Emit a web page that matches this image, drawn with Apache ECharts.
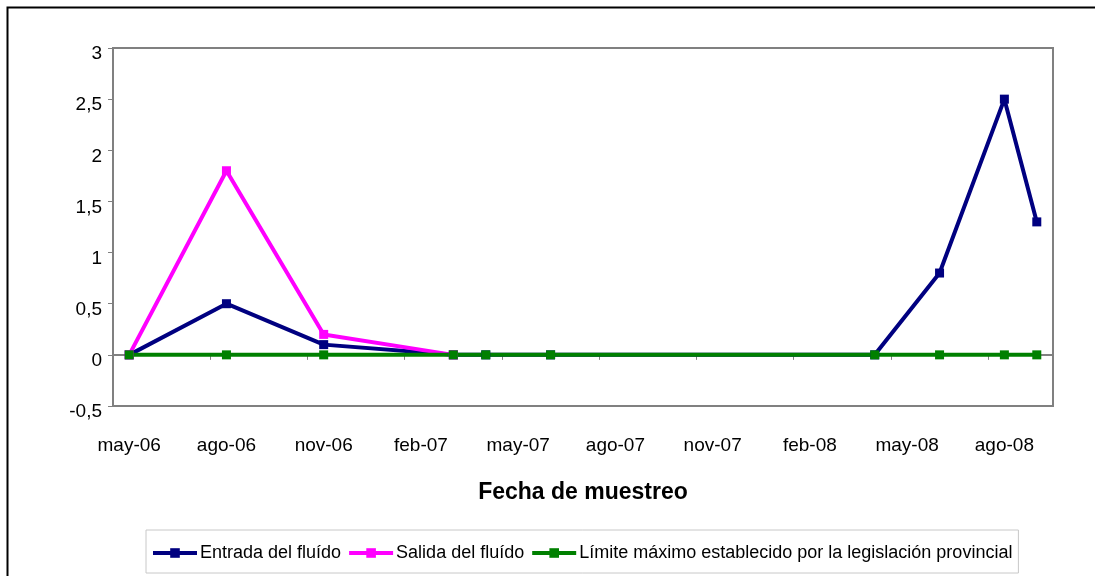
<!DOCTYPE html>
<html>
<head>
<meta charset="utf-8">
<script src="https://cdn.jsdelivr.net/npm/echarts@6/dist/echarts.min.js"></script>
<style>
html,body{margin:0;padding:0;background:#fff;}
#chart{width:1095px;height:576px;}
</style>
</head>
<body>
<div id="chart"></div>
<script>
// Monthly category axis (may-06 .. sep-08)
const categories = ['may-06','jun-06','jul-06','ago-06','sep-06','oct-06','nov-06','dic-06','ene-07','feb-07','mar-07','abr-07','may-07','jun-07','jul-07','ago-07','sep-07','oct-07','nov-07','dic-07','ene-08','feb-08','mar-08','abr-08','may-08','jun-08','jul-08','ago-08','sep-08'];
// Sampling dates
const sampleDates = ['may-06','ago-06','nov-06','mar-07','abr-07','jun-07','abr-08','jun-08','ago-08','sep-08'];
const entrada = [0, 0.5, 0.1, 0, 0, 0, 0, 0.8, 2.5, 1.3];
const salida  = [0, 1.8, 0.2, 0, null, null, null, null, null, null];
const limite  = [0, 0, 0, 0, 0, 0, 0, 0, 0, 0];
const seriesNames = ['Entrada del fluído', 'Salida del fluído', 'Límite máximo establecido por la legislación provincial'];

function pairs(vals){ return sampleDates.map((d,i)=> vals[i]==null ? null : [d, vals[i]]).filter(p=>p); }

const colors = ['#000080', '#FF00FF', '#008000'];
const font = 'Liberation Sans, Arial, sans-serif';

function mkSeries(name, vals, color){
  return {
    name: name, type: 'line', data: pairs(vals), connectNulls: true,
    symbol: 'rect', symbolSize: 9, showSymbol: true,
    lineStyle: {color: color, width: 4},
    itemStyle: {color: color},
    emphasis: {disabled: true}
  };
}

const chart = echarts.init(document.getElementById('chart'), null, {renderer: 'canvas'});
chart.setOption({
  animation: false,
  backgroundColor: '#fff',
  graphic: [{
    type: 'rect', silent: true,
    shape: {x: 7.5, y: 7.5, width: 1200, height: 700},
    style: {fill: 'none', stroke: '#000', lineWidth: 2}
  }],
  grid: {left: 113, right: 42, top: 48, height: 358, show: true, borderColor: '#808080', borderWidth: 2, backgroundColor: 'transparent'},
  xAxis: {
    type: 'category', data: categories, boundaryGap: true,
    name: 'Fecha de muestreo', nameLocation: 'middle', nameGap: 75,
    nameTextStyle: {fontFamily: font, fontSize: 23, fontWeight: 'bold', color: '#000'},
    axisLine: {lineStyle: {color: '#808080', width: 2}},
    axisTick: {show: true, interval: 2, alignWithLabel: false, length: 5, lineStyle: {color: '#808080', width: 1}},
    axisLabel: {interval: 2, margin: 30, fontFamily: font, fontSize: 19, color: '#000'},
    splitLine: {show: false}
  },
  yAxis: {
    type: 'value', min: -0.5, max: 3, interval: 0.5,
    axisLine: {show: true, lineStyle: {color: '#808080', width: 2}},
    axisTick: {show: true, length: 5, lineStyle: {color: '#808080', width: 1}},
    axisLabel: {margin: 11, fontFamily: font, fontSize: 19, color: '#000', verticalAlign: 'top', lineHeight: 12,
      formatter: v => String(v).replace('.', ',')},
    splitLine: {show: false}
  },
  legend: {
    left: 146, top: 530,
    data: seriesNames,
    padding: [14, 6, 11, 5],
    borderColor: '#c8c8c8', borderWidth: 1,
    itemWidth: 44, itemHeight: 12, itemGap: 6,
    lineStyle: {width: 4},
    textStyle: {fontFamily: font, fontSize: 18, color: '#000', padding: [0,0,0,-2]}
  },
  series: [
    mkSeries(seriesNames[0], entrada, colors[0]),
    mkSeries(seriesNames[1], salida, colors[1]),
    mkSeries(seriesNames[2], limite, colors[2])
  ]
});
</script>
</body>
</html>
